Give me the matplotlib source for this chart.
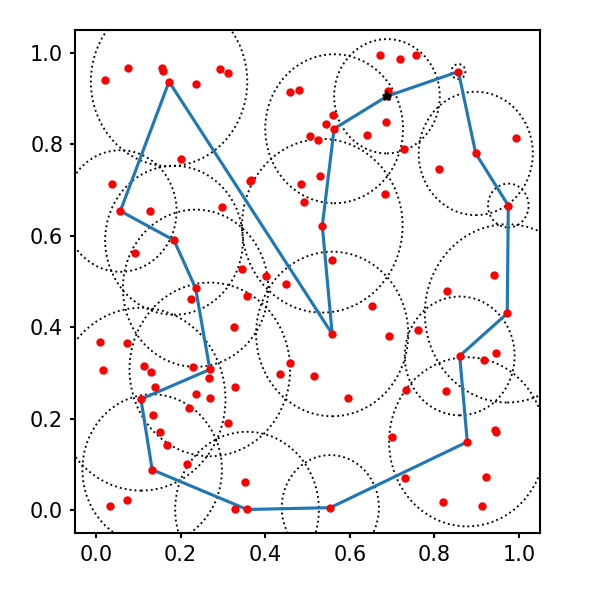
import matplotlib
matplotlib.use("Agg")
import matplotlib.pyplot as plt
from matplotlib.patches import Circle

# Tour vertices (in visiting order, starting at the starred point)
path_x = [0.688, 0.857, 0.898, 0.975, 0.9725, 0.860, 0.878, 0.554, 0.357, 0.1325,
          0.106, 0.269, 0.2353, 0.1843, 0.0573, 0.1725, 0.5584, 0.535, 0.563]
path_y = [0.905, 0.959, 0.780, 0.666, 0.430, 0.337, 0.149, 0.005, 0.001, 0.088,
          0.2423, 0.3074, 0.485, 0.590, 0.654, 0.937, 0.385, 0.6217, 0.834]
# Neighbourhood radius around each tour vertex
radii = [0.125, 0.0165, 0.135, 0.048, 0.195, 0.13, 0.185, 0.115, 0.17, 0.165,
         0.2, 0.19, 0.172, 0.163, 0.133, 0.185, 0.18, 0.19, 0.163]

# Remaining (non-tour) points
pts_x = [0.022, 0.0745, 0.156, 0.159, 0.236, 0.2925, 0.311, 0.4596, 0.481, 0.2008,
         0.0384, 0.363, 0.3655, 0.4855, 0.671, 0.7185, 0.756, 0.690, 0.5608, 0.544,
         0.5066, 0.5255, 0.6855, 0.6407, 0.728, 0.9937, 0.810, 0.530, 0.683,
         0.1278, 0.297, 0.4925, 0.0925, 0.3443, 0.403, 0.450, 0.2243, 0.356, 0.3255,
         0.0087, 0.0737, 0.5584, 0.942, 0.829, 0.6525, 0.6925, 0.7608, 0.9466, 0.9184,
         0.0172, 0.1137, 0.130, 0.229, 0.2675, 0.3294, 0.1404, 0.236, 0.269, 0.2196,
         0.1349, 0.311, 0.1506, 0.168, 0.2148, 0.353, 0.0337, 0.0737, 0.3294,
         0.4596, 0.4353, 0.516, 0.596, 0.7325, 0.8266, 0.6995, 0.9428, 0.945,
         0.730, 0.923, 0.8196, 0.913]
pts_y = [0.940, 0.966, 0.966, 0.961, 0.932, 0.964, 0.9565, 0.915, 0.919, 0.768,
         0.713, 0.719, 0.721, 0.713, 0.996, 0.987, 0.996, 0.916, 0.8645, 0.845,
         0.819, 0.8097, 0.849, 0.8206, 0.790, 0.814, 0.746, 0.7307, 0.692,
         0.654, 0.6627, 0.6737, 0.5618, 0.5267, 0.5114, 0.4939, 0.461, 0.4675, 0.3996,
         0.3667, 0.3645, 0.5465, 0.5136, 0.479, 0.4456, 0.3805, 0.3936, 0.3425, 0.329,
         0.3052, 0.314, 0.3008, 0.3118, 0.2877, 0.268, 0.270, 0.2526, 0.246, 0.222,
         0.2088, 0.191, 0.1715, 0.143, 0.1013, 0.0618, 0.0092, 0.0224, 0.0026,
         0.3206, 0.297, 0.292, 0.246, 0.2614, 0.2599, 0.1605, 0.1759, 0.1715,
         0.0706, 0.0728, 0.0164, 0.0092]

ticks = [0.0, 0.2, 0.4, 0.6, 0.8, 1.0]

fig, ax = plt.subplots(figsize=(4, 4), dpi=150)
fig.subplots_adjust(left=0.125, right=0.9, bottom=0.112, top=0.95)

for cx, cy, r in zip(path_x, path_y, radii):
    ax.add_patch(Circle((cx, cy), r, fill=False, linestyle=':', edgecolor='black',
                        linewidth=0.9))

ax.plot(path_x + [path_x[0]], path_y + [path_y[0]], color='#1f77b4', linewidth=1.5)
ax.plot(pts_x + path_x, pts_y + path_y, 'r.', zorder=3)
ax.plot(path_x[:1], path_y[:1], 'k*', markersize=4.5, zorder=4)

ax.set_xlim(-0.05, 1.05)
ax.set_ylim(-0.05, 1.05)
ax.set_xticks(ticks)
ax.set_yticks(ticks)
ax.set_xticklabels([f"{t:.1f}" for t in ticks])
ax.set_yticklabels([f"{t:.1f}" for t in ticks])
ax.tick_params(length=2.2, width=1.0)
for s in ax.spines.values():
    s.set_linewidth(1.0)

fig.savefig("out.png", dpi=150)
